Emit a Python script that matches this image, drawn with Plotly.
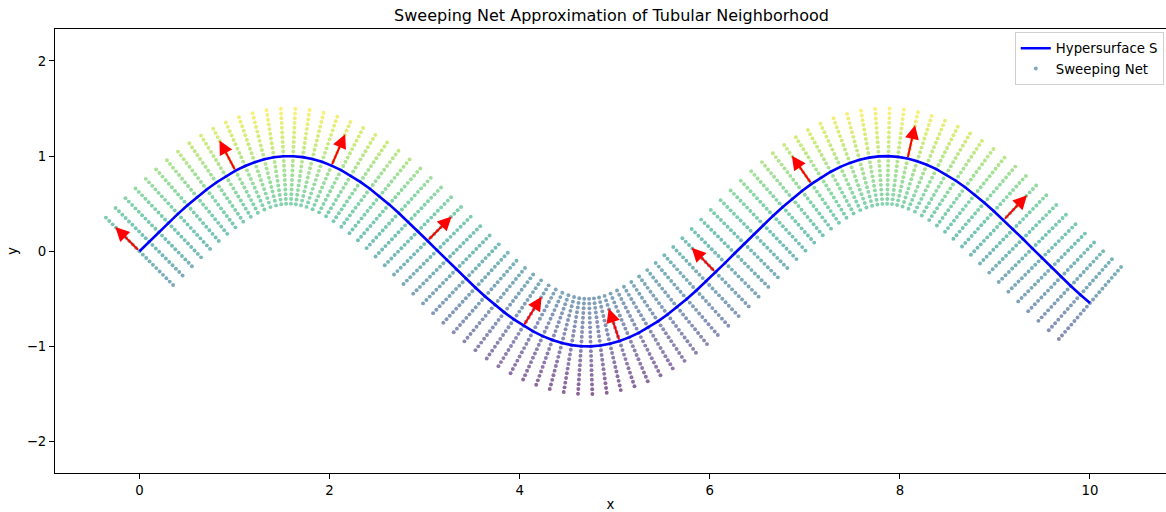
import numpy as np
import plotly.graph_objects as go

# Hypersurface S: sampled curve (100 samples on [0, 10])
curve_x = np.linspace(0, 10, 100)
curve_y = [
    0.0000, 0.1008, 0.2007, 0.2984, 0.3931, 0.4839, 0.5696, 0.6496, 0.7230, 0.7889,
    0.8469, 0.8962, 0.9364, 0.9670, 0.9878, 0.9985, 0.9990, 0.9893, 0.9696, 0.9399,
    0.9007, 0.8523, 0.7952, 0.7300, 0.6574, 0.5781, 0.4928, 0.4026, 0.3082, 0.2107,
    0.1111, 0.0103, -0.0906, -0.1906, -0.2886, -0.3837, -0.4748, -0.5612, -0.6418, -0.7158,
    -0.7826, -0.8414, -0.8916, -0.9327, -0.9643, -0.9861, -0.9978, -0.9994, -0.9908, -0.9720,
    -0.9434, -0.9051, -0.8576, -0.8014, -0.7370, -0.6651, -0.5864, -0.5017, -0.4119, -0.3180,
    -0.2207, -0.1213, -0.0206, 0.0804, 0.1805, 0.2787, 0.3742, 0.4658, 0.5526, 0.6338,
    0.7086, 0.7761, 0.8358, 0.8869, 0.9289, 0.9615, 0.9843, 0.9971, 0.9997, 0.9921,
    0.9744, 0.9467, 0.9094, 0.8629, 0.8075, 0.7439, 0.6727, 0.5947, 0.5106, 0.4213,
    0.3277, 0.2308, 0.1315, 0.0308, -0.0701, -0.1704, -0.2688, -0.3646, -0.4566, -0.5440,
]
curve_y = np.array(curve_y)

# offsets along the unit normal for each sweep line of the net
net_offsets = [
    -0.50, -0.45, -0.40, -0.35, -0.30, -0.25, -0.20, -0.15, -0.10, -0.05, 0.00,
    0.05, 0.10, 0.15, 0.20, 0.25, 0.30, 0.35, 0.40, 0.45, 0.50,
]

# sample indices where a normal vector is drawn
arrow_idx = [0, 10, 20, 30, 40, 50, 60, 70, 80, 90]

ARROW_LEN = 0.36

# unit normals from the sampled curve
slope = np.gradient(curve_y, curve_x)
norm = np.sqrt(1.0 + slope ** 2)
nx = -slope / norm
ny = 1.0 / norm

off = np.array(net_offsets)
net_x = (curve_x[:, None] + off[None, :] * nx[:, None]).ravel()
net_y = (curve_y[:, None] + off[None, :] * ny[:, None]).ravel()

FONT = "DejaVu Sans"

fig = go.Figure()

fig.add_trace(go.Scatter(
    x=net_x, y=net_y, mode="markers", name="Sweeping Net",
    marker=dict(size=3.9, color=net_y, colorscale="Viridis", opacity=0.62,
                line=dict(width=0)),
))

fig.add_trace(go.Scatter(
    x=curve_x, y=curve_y, mode="lines", name="Hypersurface S",
    line=dict(color="#0000ff", width=2.6),
))

for i in arrow_idx:
    bx, by = curve_x[i], curve_y[i]
    fig.add_annotation(
        x=bx + ARROW_LEN * nx[i], y=by + ARROW_LEN * ny[i],
        ax=bx, ay=by, xref="x", yref="y", axref="x", ayref="y",
        text="", showarrow=True, arrowhead=2, arrowsize=1.4,
        arrowwidth=2, arrowcolor="#ff0000", standoff=0, startstandoff=0,
    )

fig.update_layout(
    width=1166, height=512,
    margin=dict(l=55, r=0, t=29, b=39),
    paper_bgcolor="white", plot_bgcolor="white",
    font=dict(family=FONT, size=13.3, color="black"),
    title=dict(text="Sweeping Net Approximation of Tubular Neighborhood",
               x=(55 + 1168) / 2 / 1166, xanchor="center",
               y=1 - 15.5 / 512, yanchor="middle", yref="container",
               font=dict(size=16, family=FONT, color="black")),
    showlegend=True,
    legend=dict(x=0.998, y=0.993, xanchor="right", yanchor="top",
                bgcolor="rgba(255,255,255,0.8)", bordercolor="#d0d0d0",
                borderwidth=1, font=dict(size=13.3, family=FONT),
                traceorder="reversed", itemwidth=30),
)

fig.update_xaxes(
    range=[-0.889, 10.80], showgrid=False, zeroline=False, automargin=False,
    showline=True, linecolor="black", linewidth=1, mirror=True,
    ticks="outside", ticklen=5, tickcolor="black", tickwidth=1,
    tickvals=[0, 2, 4, 6, 8, 10],
    title=dict(text="x", standoff=11, font=dict(size=13.3)),
)
fig.update_yaxes(
    range=[-2.33, 2.336], showgrid=False, zeroline=False, automargin=False,
    showline=True, linecolor="black", linewidth=1, mirror=False,
    ticks="outside", ticklen=5, tickcolor="black", tickwidth=1,
    tickvals=[-2, -1, 0, 1, 2],
    title=dict(text="y", standoff=6, font=dict(size=13.3)),
)

fig.write_html("out.html")
